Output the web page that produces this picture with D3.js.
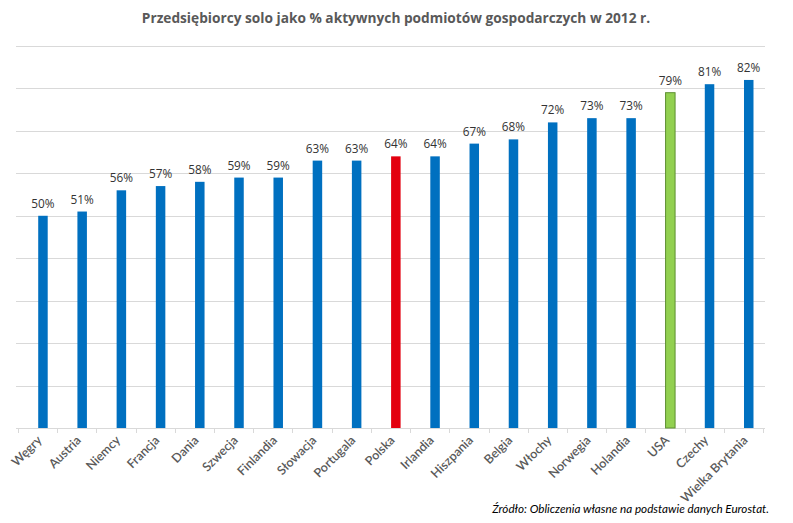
<!DOCTYPE html>
<html><head><meta charset="utf-8">
<script src="https://cdn.jsdelivr.net/npm/d3@7"></script>
<style>body{margin:0;background:#fff}svg{display:block}</style>
</head><body>
<script>
const categories = ["Węgry","Austria","Niemcy","Francja","Dania","Szwecja","Finlandia","Słowacja","Portugala","Polska","Irlandia","Hiszpania","Belgia","Włochy","Norwegia","Holandia","USA","Czechy","Wielka Brytania"];
const values = [50,51,56,57,58,59,59,63,63,64,64,67,68,72,73,73,79,81,82];
const yTicks = [0,10,20,30,40,50,60,70,80,90];
const highlight = {"Polska":"red","USA":"green"};

const W=793,H=523;
const svg=d3.select("body").append("svg").attr("width",W).attr("height",H);
const font="Lato, 'Open Sans', sans-serif";

const x=d3.scaleBand().domain(categories).range([18,763]).padding(0);
const y=d3.scaleLinear().domain([0,90]).range([428,46]);

// gridlines
svg.append("g").selectAll("line").data(yTicks).join("line")
  .attr("x1",16).attr("x2",765)
  .attr("y1",d=>Math.round(y(d))+0.5).attr("y2",d=>Math.round(y(d))+0.5)
  .attr("stroke","#d9d9d9").attr("stroke-width",1);

// x axis ticks
const ticks=categories.map(c=>x(c)).concat([x(categories[categories.length-1])+x.bandwidth()]);
svg.append("g").selectAll("line").data(ticks).join("line")
  .attr("x1",d=>Math.round(d)+0.5).attr("x2",d=>Math.round(d)+0.5)
  .attr("y1",428).attr("y2",433).attr("stroke","#d9d9d9");

const colorOf=c=>highlight[c]==="red"?"#E3000F":highlight[c]==="green"?"#92D050":"#0070C0";
const strokeOf=c=>highlight[c]==="green"?"#5E8F32":"none";
const bw=9.5;
const data=categories.map((c,i)=>({c,v:values[i]}));
svg.append("g").selectAll("rect").data(data).join("rect")
  .attr("x",d=>x(d.c)+x.bandwidth()/2+0.6)
  .attr("width",bw)
  .attr("y",d=>y(d.v))
  .attr("height",d=>y(0)-y(d.v))
  .attr("fill",d=>colorOf(d.c))
  .attr("stroke",d=>strokeOf(d.c));

// value labels
svg.append("g").selectAll("text").data(data).join("text")
  .attr("x",d=>x(d.c)+x.bandwidth()/2+0.6+bw/2)
  .attr("y",d=>y(d.v)-8)
  .attr("text-anchor","middle")
  .attr("font-family","'Open Sans', sans-serif").attr("font-size",11.8).attr("fill","#333")
  .text(d=>d.v+"%");

// category labels
svg.append("g").selectAll("text").data(categories).join("text")
  .attr("transform",c=>`translate(${x(c)+x.bandwidth()/2+5},${441}) rotate(-45)`)
  .attr("text-anchor","end")
  .attr("font-family",font).attr("font-size",12.5).attr("font-weight",600).attr("fill","#595959")
  .text(c=>c);

// title
svg.append("text").attr("x",396).attr("y",23).attr("text-anchor","middle")
  .attr("font-family","'Open Sans', sans-serif").attr("font-size",13.7).attr("font-weight",700).attr("fill","#595959")
  .text("Przedsiębiorcy solo jako % aktywnych podmiotów gospodarczych w 2012 r.");

// source
svg.append("text").attr("x",769).attr("y",513).attr("text-anchor","end")
  .attr("font-family",font).attr("font-size",11.7).attr("font-style","italic").attr("fill","#000")
  .text("Źródło: Obliczenia własne na podstawie danych  Eurostat.");
</script>
</body></html>
